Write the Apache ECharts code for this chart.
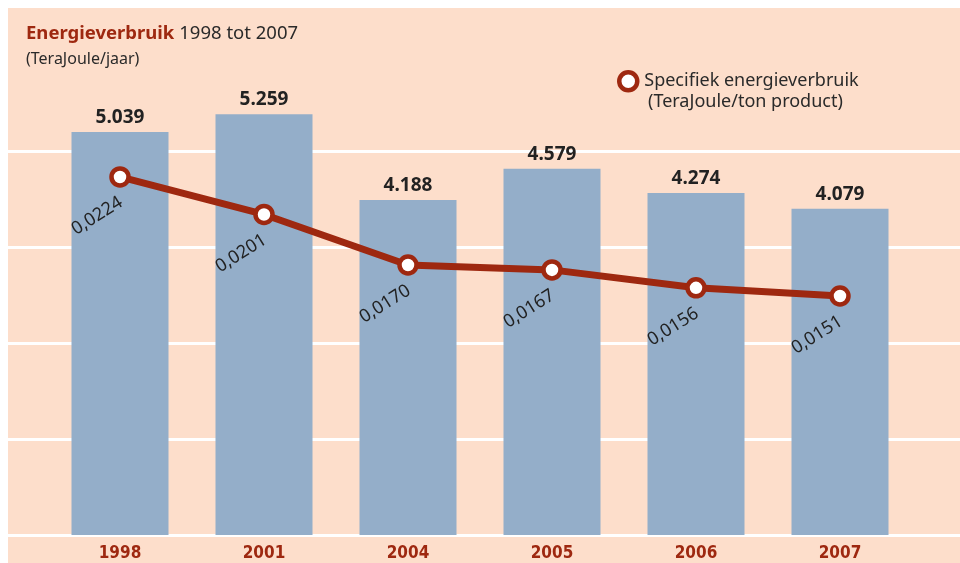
<!DOCTYPE html>
<html>
<head>
<meta charset="utf-8">
<script src="https://cdn.jsdelivr.net/npm/echarts@6/dist/echarts.min.js"></script>
<style>
  html, body { margin: 0; padding: 0; background: #fff; }
  #chart { width: 960px; height: 563px; }
</style>
</head>
<body>
<div id="chart"></div>
<script>
// data
const years = ["1998", "2001", "2004", "2005", "2006", "2007"];
const energie = [5039, 5259, 4188, 4579, 4274, 4079];           // TeraJoule/jaar
const specifiek = [0.0224, 0.0201, 0.0170, 0.0167, 0.0156, 0.0151]; // TeraJoule/ton product

const RED = "#9e2810";
const PEACH = "#fddecb";
const BAR = "#94aec9";
const FONT = "Noto Sans";

const chart = echarts.init(document.getElementById("chart"));

const option = {
  backgroundColor: "#ffffff",
  animation: false,
  graphic: [
    {
      type: "rect",
      z: -100,
      silent: true,
      shape: { x: 8, y: 8, width: 952, height: 555 },
      style: { fill: PEACH }
    },
    {
      // tweede regel van de legenda
      type: "text",
      left: 648,
      top: 93,
      silent: true,
      style: {
        text: "(TeraJoule/ton product)",
        fill: "#2a2a2a",
        font: "18px 'Noto Sans'"
      }
    }
  ],
  title: {
    left: 21,
    top: 19,
    itemGap: 8,
    text: "{a|Energieverbruik} {b|1998 tot 2007}",
    subtext: "(TeraJoule/jaar)",
    textStyle: {
      fontWeight: "normal",
      rich: {
        a: { fontFamily: FONT, fontSize: 18.5, fontWeight: "bold", color: RED },
        b: { fontFamily: FONT, fontSize: 18.5, fontWeight: "normal", color: "#2a2a2a" }
      }
    },
    subtextStyle: { fontFamily: FONT, fontSize: 16, color: "#2a2a2a" }
  },
  legend: {
    left: 612,
    top: 65,
    icon: "circle",
    itemWidth: 18,
    itemHeight: 18,
    itemGap: 8,
    data: ["Specifiek energieverbruik"],
    itemStyle: { color: "#ffffff", borderColor: RED, borderWidth: 4.5 },
    textStyle: { fontFamily: FONT, fontSize: 18, color: "#2a2a2a", padding: [0, 0, 0, 2] }
  },
  grid: [
    // full-width grid only for the white gridlines
    { left: 8, right: 0, top: 55, bottom: 28 },
    { left: 48, right: 48, top: 55, bottom: 28 }
  ],
  xAxis: [
    { gridIndex: 0, type: "value", show: false },
    {
      gridIndex: 1,
      type: "category",
      data: years,
      axisLine: { show: false },
      axisTick: { show: false },
      axisLabel: {
        margin: 10,
        fontFamily: "DejaVu Sans Condensed",
        fontWeight: "bold",
        fontSize: 17,
        color: RED
      }
    }
  ],
  yAxis: [
    {
      gridIndex: 0,
      type: "value",
      min: 0,
      max: 6000,
      interval: 1200,
      axisLine: { show: false },
      axisTick: { show: false },
      axisLabel: { show: false },
      splitLine: {
        show: true,
        showMaxLine: false,
        lineStyle: { color: "#ffffff", width: 3 }
      }
    },
    {
      gridIndex: 1,
      type: "value",
      min: 0,
      max: 6000,
      show: false,
      splitLine: { show: false }
    },
    {
      gridIndex: 1,
      type: "value",
      min: 0.00044,
      max: 0.02988,
      show: false,
      splitLine: { show: false }
    }
  ],
  series: [
    {
      name: "Energieverbruik",
      type: "bar",
      xAxisIndex: 1,
      yAxisIndex: 1,
      data: energie,
      barWidth: 97,
      itemStyle: { color: BAR },
      label: {
        show: true,
        position: "top",
        distance: 5,
        fontFamily: FONT,
        fontWeight: "bold",
        fontSize: 19,
        color: "#222222",
        formatter: p => p.value.toLocaleString("de-DE")
      }
    },
    {
      name: "Specifiek energieverbruik",
      type: "line",
      xAxisIndex: 1,
      yAxisIndex: 2,
      data: specifiek,
      z: 5,
      symbol: "circle",
      symbolSize: 17,
      lineStyle: { color: RED, width: 7 },
      itemStyle: { color: "#ffffff", borderColor: RED, borderWidth: 4.5 },
      label: {
        show: true,
        position: "inside",
        offset: [-40, 21],
        rotate: 32,
        fontFamily: FONT,
        fontSize: 18,
        color: "#222222",
        formatter: p => p.value.toFixed(4).replace(".", ",")
      }
    }
  ]
};

chart.setOption(option);
</script>
</body>
</html>
